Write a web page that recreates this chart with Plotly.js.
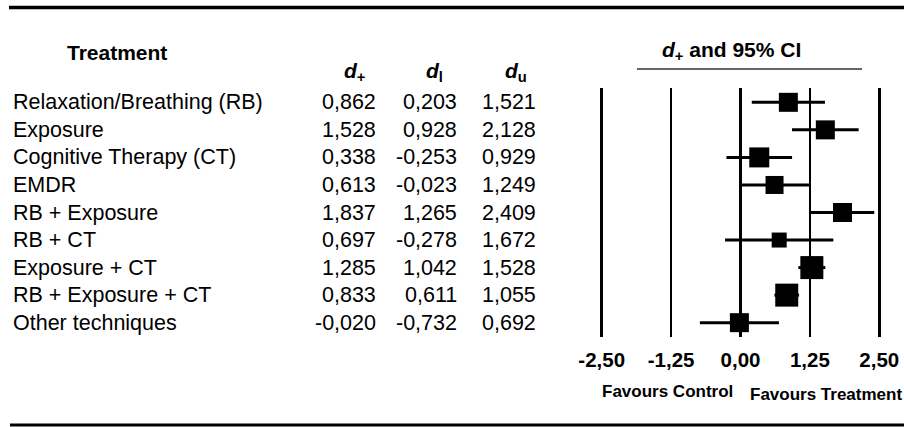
<!DOCTYPE html>
<html>
<head>
<meta charset="utf-8">
<script src="https://cdn.plot.ly/plotly-3.0.1.min.js"></script>
<style>html,body{margin:0;padding:0;background:#fff;}#chart{width:904px;height:427px;}</style>
</head>
<body>
<div id="chart"></div>
<script>
// ---- data ----
const treatments = [
  "Relaxation/Breathing (RB)",
  "Exposure",
  "Cognitive Therapy (CT)",
  "EMDR",
  "RB + Exposure",
  "RB + CT",
  "Exposure + CT",
  "RB + Exposure + CT",
  "Other techniques"
];
const dPlus  = [0.862, 1.528, 0.338, 0.613, 1.837, 0.697, 1.285, 0.833, -0.020];
const dLower = [0.203, 0.928, -0.253, -0.023, 1.265, -0.278, 1.042, 0.611, -0.732];
const dUpper = [1.521, 2.128, 0.929, 1.249, 2.409, 1.672, 1.528, 1.055, 0.692];
const weights = [19, 19, 20, 18, 19, 15, 23, 23, 19]; // marker size (study weight)
const tickVals = [-2.5, -1.25, 0, 1.25, 2.5];
const tickLabels = ["-2,50", "-1,25", "0,00", "1,25", "2,50"];

// ---- layout helpers ----
const W = 904, H = 427;
const FONT = '"Liberation Sans", Arial, Helvetica, sans-serif';
const px = x => x / W;
const py = y => 1 - y / H;
const fmt = v => v.toFixed(3).replace('.', ',');
const PPU = 55.52;   // pixels per unit on the forest axis
const PAD = 0.05;    // range padding so edge gridlines are drawn

const trace = {
  type: 'scatter',
  mode: 'markers',
  x: dPlus,
  y: treatments,
  marker: {symbol: 'square', size: weights, color: '#000', opacity: 1, line: {width: 0, color: '#000'}},
  opacity: 1,
  error_x: {
    type: 'data', symmetric: false,
    array: dUpper.map((u, i) => u - dPlus[i]),
    arrayminus: dLower.map((l, i) => dPlus[i] - l),
    color: '#000', thickness: 3, width: 0
  },
  hoverinfo: 'skip',
  showlegend: false
};

const annotations = [];
const rowFont = {family: FONT, size: 21.5, color: '#000'};
treatments.forEach((t, i) => {
  annotations.push({xref: 'paper', yref: 'y', x: px(11), y: t, text: t, showarrow: false,
    xanchor: 'left', yanchor: 'middle', font: rowFont});
  annotations.push({xref: 'paper', yref: 'y', x: px(378), y: t, text: fmt(dPlus[i]), showarrow: false,
    xanchor: 'right', yanchor: 'middle', font: rowFont});
  annotations.push({xref: 'paper', yref: 'y', x: px(459), y: t, text: fmt(dLower[i]), showarrow: false,
    xanchor: 'right', yanchor: 'middle', font: rowFont});
  annotations.push({xref: 'paper', yref: 'y', x: px(538), y: t, text: fmt(dUpper[i]), showarrow: false,
    xanchor: 'right', yanchor: 'middle', font: rowFont});
});
const hdrFont = {family: FONT, size: 21, color: '#000'};
annotations.push({xref: 'paper', yref: 'paper', x: px(117), y: py(52), text: '<b>Treatment</b>',
  showarrow: false, xanchor: 'center', yanchor: 'middle', font: hdrFont});
annotations.push({xref: 'paper', yref: 'paper', x: px(354), y: py(72), text: '<b><i>d</i><sub>+</sub></b>',
  showarrow: false, xanchor: 'center', yanchor: 'middle', font: hdrFont});
annotations.push({xref: 'paper', yref: 'paper', x: px(434), y: py(72), text: '<b><i>d</i><sub>l</sub></b>',
  showarrow: false, xanchor: 'center', yanchor: 'middle', font: hdrFont});
annotations.push({xref: 'paper', yref: 'paper', x: px(516), y: py(72), text: '<b><i>d</i><sub>u</sub></b>',
  showarrow: false, xanchor: 'center', yanchor: 'middle', font: hdrFont});
annotations.push({xref: 'paper', yref: 'paper', x: px(731), y: py(51), text: '<b><i>d</i><sub>+</sub> and 95% CI</b>',
  showarrow: false, xanchor: 'center', yanchor: 'middle', font: hdrFont});
const favFont = {family: FONT, size: 17, color: '#000'};
annotations.push({xref: 'paper', yref: 'paper', x: px(667), y: py(391), text: '<b>Favours Control</b>',
  showarrow: false, xanchor: 'center', yanchor: 'middle', font: favFont});
annotations.push({xref: 'paper', yref: 'paper', x: px(826), y: py(394), text: '<b>Favours Treatment</b>',
  showarrow: false, xanchor: 'center', yanchor: 'middle', font: favFont});

const shapes = [
  {type: 'line', xref: 'paper', yref: 'paper', x0: px(9), x1: 1, y0: py(7.5), y1: py(7.5),
    line: {color: '#000', width: 3.5}},
  {type: 'line', xref: 'paper', yref: 'paper', x0: px(10), x1: 1, y0: py(425), y1: py(425),
    line: {color: '#000', width: 3}},
  {type: 'line', xref: 'paper', yref: 'paper', x0: px(637), x1: px(862), y0: py(69), y1: py(69),
    line: {color: '#333', width: 1.5}}
];

const layout = {
  width: W, height: H,
  margin: {l: 0, r: 0, t: 0, b: 0, pad: 0},
  paper_bgcolor: '#fff', plot_bgcolor: 'rgba(0,0,0,0)',
  font: {family: FONT, color: '#000'},
  xaxis: {
    domain: [px(601.7 - PAD * PPU), px(879.3 + PAD * PPU)],
    range: [-2.5 - PAD, 2.5 + PAD],
    tickmode: 'array', tickvals: tickVals, ticktext: tickLabels,
    showgrid: true, gridcolor: '#000', gridwidth: 2.5,
    zeroline: false, showline: false, ticks: '',
    tickfont: {family: FONT, size: 20.5, color: '#000', weight: 'bold'},
    ticklabelstandoff: 8,
    fixedrange: true
  },
  yaxis: {
    domain: [py(337), py(88)],
    type: 'category',
    categoryorder: 'array', categoryarray: treatments,
    range: [8.52, -0.52],
    showgrid: false, zeroline: false, showline: false, showticklabels: false, ticks: '',
    fixedrange: true
  },
  annotations: annotations,
  shapes: shapes,
  showlegend: false
};

Plotly.newPlot('chart', [trace], layout, {displayModeBar: false, staticPlot: true});
</script>
</body>
</html>
